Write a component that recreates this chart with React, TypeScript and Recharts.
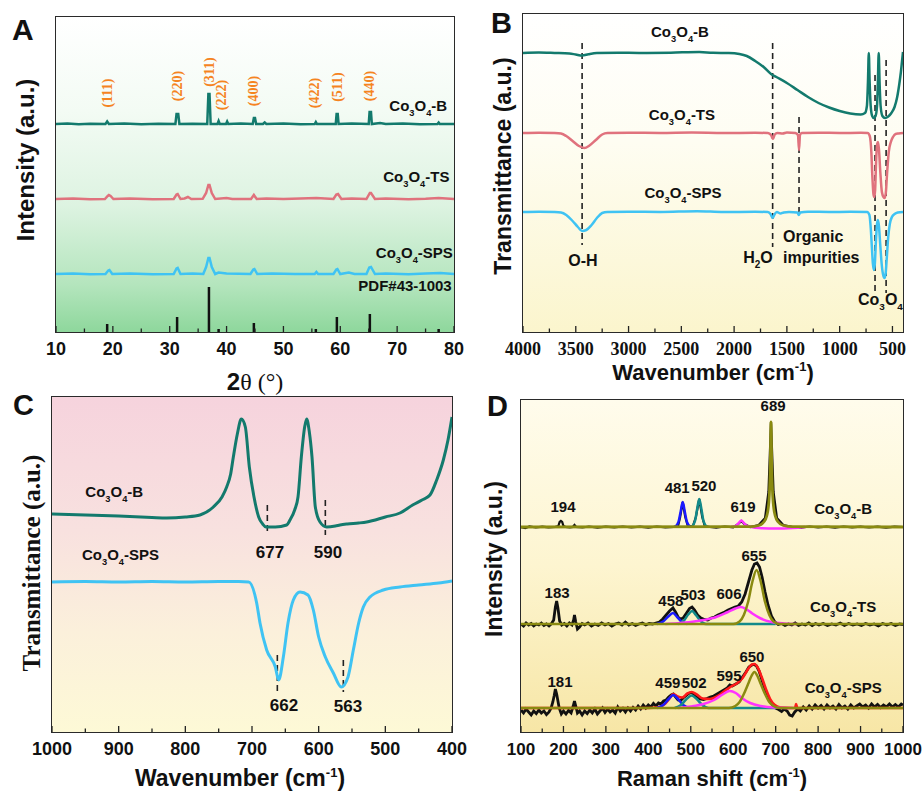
import React from 'react';
import { LineChart, Line, XAxis, YAxis, ReferenceLine, ReferenceDot } from 'recharts';

type Pt = [number, number];

const SANS = '"Liberation Sans", Arial, sans-serif';
const SERIF = '"Liberation Serif", "Times New Roman", serif';

// ---------- A: XRD (2θ, intensity a.u.) ----------
const xrdB: Pt[] = [[10,208],[12,208.4],[14,207.8],[16,208.3],[18.7,208],[19.0,210.5],[19.3,208],[22,208.4],[25,207.8],[28,208.3],[31.0,208],[31.2,218],[31.5,218],[31.7,208],[34,208.3],[36.6,208],[36.8,238],[37.0,238],[37.2,208],[38.4,208],[38.6,211],[38.8,208],[39.9,208],[40.1,210.5],[40.3,208],[42.5,208.4],[44.6,208],[44.8,214],[45.0,214],[45.2,208],[46.4,208],[46.7,209.5],[47.0,208],[50,208.4],[53,207.8],[55.5,208],[55.7,210],[55.9,208],[59.2,208],[59.35,218],[59.55,218],[59.7,208],[62,208.4],[65.0,208],[65.15,220],[65.4,220],[65.55,208],[67,209],[68,208],[71,208.5],[74,207.8],[77.1,208],[77.3,209.5],[77.5,208],[80,208]];
const xrdTS: Pt[] = [[10,133],[13,133.4],[16,132.8],[18.6,133],[19.1,136],[19.3,137],[19.6,136],[20.1,133],[23,133.4],[27,132.8],[30.7,133],[31.2,137.5],[31.4,138],[31.9,133],[32.6,133.5],[33.2,135],[33.8,133],[35.8,133.2],[36.4,139],[36.8,147],[37.0,147],[37.4,139],[38,133],[40,134],[41,133],[44.3,133],[44.8,137],[45.3,133],[47,133.6],[50,133],[53,133.4],[55.8,134],[58.8,133],[59.3,137.5],[59.6,138],[60.2,133],[62,133.4],[64.6,133],[65.2,139],[65.4,139],[66.1,133],[68,133.4],[72,132.8],[75,133.3],[77.3,134],[80,133]];
const xrdSPS: Pt[] = [[10,58],[13,58.4],[16,57.8],[18.7,58],[19.2,61.5],[19.4,62],[19.9,58],[23,58.4],[27,57.8],[30.7,58],[31.2,63.5],[31.4,64],[31.9,58],[34,58.4],[35.9,58],[36.4,65],[36.8,74],[37.0,74],[37.4,65],[38,58],[38.6,59.5],[40,58.5],[44.2,58],[44.7,62.5],[44.9,63],[45.4,58],[48,58.6],[52,58],[55.5,58],[55.8,60],[56.1,58],[58.8,58],[59.3,62.5],[59.5,63],[60,58],[61.5,59.5],[62.5,58],[64.6,58],[65.1,64.5],[65.4,65],[66.1,58],[68,58.4],[72,57.8],[75,58.4],[77.6,59],[80,58]];
const pdfPos = [19.0, 31.3, 36.9, 38.6, 44.8, 55.7, 59.4, 65.2, 77.3];
const pdfInt = [8, 15, 45, 3, 9, 3, 15, 18, 3];
const hklText = ['(111)', '(220)', '(311)', '(222)', '(400)', '(422)', '(511)', '(440)'];
const hklX = [19.0, 31.3, 36.9, 39.1, 44.7, 55.4, 59.4, 65.1];
const hklY = [239, 246, 260, 237, 241, 239, 245, 246];

// ---------- B: FTIR 4000-400 ----------
const ftirB: Pt[] = [[4000,279],[3850,279.4],[3700,279],[3560,278.5],[3500,277.5],[3440,276.5],[3380,277.8],[3300,279],[3100,279.3],[2900,279],[2600,279.3],[2330,280],[2200,279.2],[2050,279],[1950,278],[1880,276],[1800,271],[1720,265],[1650,258],[1600,255],[1500,249],[1400,242],[1300,235],[1200,229],[1100,224.5],[1000,221],[900,218.5],[800,217.5],[760,219],[742,226],[732,250],[724,279],[716,250],[706,226],[692,216],[676,214],[660,216],[646,226],[638,250],[630,279],[622,250],[612,226],[595,216],[570,214],[540,215.5],[510,219],[480,225],[455,235],[435,248],[420,260],[410,270],[400,280]];
const ftirTS: Pt[] = [[4000,199],[3850,199.3],[3700,199],[3640,198.5],[3590,196],[3530,191],[3470,186],[3420,184],[3370,186.5],[3310,192],[3250,197.5],[3200,199],[3000,199.3],[2700,199],[2400,199.4],[2100,199],[1800,199.2],[1680,199],[1650,197],[1632,193],[1615,197.5],[1590,199],[1540,198.5],[1500,199.5],[1420,199],[1395,197],[1385,182],[1376,197],[1360,199],[1200,199.3],[1000,199],[800,199.2],[735,199],[715,196],[700,180],[690,155],[680,138],[672,135],[664,142],[655,170],[645,188],[637,190],[628,183],[615,160],[600,140],[585,135],[572,134],[562,140],[550,160],[535,180],[515,190],[495,195],[470,198],[440,198.5],[400,199]];
const ftirSPS: Pt[] = [[4000,120],[3850,120.3],[3700,120],[3640,119.5],[3590,117],[3530,111],[3480,105],[3440,101],[3400,102],[3350,107],[3300,114],[3250,119],[3200,120],[3000,120.3],[2700,120],[2350,120.8],[2100,120],[1800,120.2],[1680,120],[1655,118],[1635,114],[1615,118],[1595,120],[1560,118.5],[1530,119.5],[1480,120],[1400,119.5],[1387,117],[1375,119.5],[1300,120.3],[1100,120],[900,120.2],[740,120],[718,117],[705,103],[695,85],[685,68],[676,62],[667,68],[656,92],[646,108],[637,112],[628,106],[616,88],[602,68],[588,57],[575,54],[565,58],[553,75],[540,95],[525,108],[505,115],[480,118],[450,119.5],[400,120]];
const dashB: [number, number, number][] = [[3440, 289, 87], [1635, 289, 85], [1385, 215, 117], [665, 257, 39], [560, 272, 39]];

// ---------- C: FTIR 1000-400 ----------
const ftirCB: Pt[] = [[1000,218],[950,217],[900,216],[850,214.5],[828,214],[800,215],[778,217],[758,225],[745,235],[738,245],[732,258],[728,275],[722,298],[716,313],[710,305],[704,265],[697,235],[690,215],[684,208],[679,205],[665,205],[648,207],[643,212],[636,222],[631,235],[626,275],[621,305],[618,313],[614,300],[610,275],[605,225],[598,210],[588,205],[575,206],[568,207],[557,208],[540,209],[528,210],[500,215],[478,219],[459,227],[445,232],[433,237],[423,252],[413,272],[406,292],[400,315]];
const ftirCSPS: Pt[] = [[1000,150],[950,150.5],[900,150],[850,150.5],[800,150],[750,150.5],[720,150.5],[705,150],[693,129],[688,109],[678,82],[665,65],[660,52],[653,75],[646,109],[638,132],[628,140],[616,137],[608,122],[600,95],[590,75],[578,59],[566,45],[556,55],[548,82],[540,109],[533,125],[523,135],[503,142],[478,145],[450,147],[420,149],[400,151]];
const dashC: [number, number, number][] = [[677, 227, 199], [590, 232, 197], [662, 77, 40], [563, 72, 40]];
const peakC: [string, number, number][] = [['677', 673, 180], ['590', 586, 180], ['662', 652, 27], ['563', 556, 26]];

// ---------- D: Raman ----------
const ramanBData: Pt[] = [[100,205],[110,204],[120,205.5],[135,204.5],[150,205.3],[165,204.6],[180,205],[188,206],[191,210],[194,211],[197,210],[200,206],[205,205],[215,204.5],[222,205],[226,207],[230,205],[245,204.5],[260,205.5],[280,204.3],[300,205.4],[320,204.6],[340,205.5],[360,204.5],[380,205.3],[400,204.4],[420,205.5],[440,204.6],[460,205.2],[470,206],[475,215],[481,230],[487,215],[493,206],[505,206],[512,215],[520,233],[527,215],[533,206],[545,205],[560,204.4],[580,205.5],[600,204.7],[612,208],[619,211],[626,208],[640,205],[660,207],[675,214],[683,240],[689,310],[695,240],[703,214],[718,207],[740,205],[760,204.3],[780,205.5],[800,204.5],[820,205.3],[840,204.4],[860,205.5],[880,204.6],[900,205.4],[920,204.5],[940,205.3],[960,204.4],[980,205.4],[1000,205]];
const ramanBBlue: Pt[] = [[463,205],[471,210],[476,220],[481,230],[486,220],[491,210],[499,205]];
const ramanBTeal: Pt[] = [[502,205],[510,211],[515,223],[520,233],[525,223],[530,211],[538,205]];
const ramanBMag: Pt[] = [[595,205],[607,206.5],[613,209],[619,211.5],[625,209],[631,206.5],[643,205],[660,204],[700,203.5],[740,204],[770,205]];
const ramanBOlive: Pt[] = [[100,205],[640,205.3],[660,206.5],[672,210],[679,216],[684,230],[687,260],[689,310],[691,260],[694,230],[699,216],[706,210],[718,206.5],[740,205.3],[1000,205]];

const ramanTSData: Pt[] = [[100,108],[106,106],[112,109],[118,107],[124,108.5],[130,106],[136,108],[142,107],[148,109],[154,106.5],[160,108],[166,106],[172,108.5],[177,112],[181,125],[184,131],[187,124],[191,111],[196,107],[202,108.5],[208,106],[214,109],[220,107],[224,112],[226,117],[229,110],[233,103],[238,105],[244,108.5],[250,107],[258,109],[266,106],[274,108],[282,106.5],[290,109],[298,107],[306,108.5],[314,106],[322,108],[330,109],[338,107],[346,110],[354,107],[362,108.5],[370,106.5],[378,108],[386,109],[394,107],[402,108.5],[410,108],[418,109],[426,110],[434,113],[442,117],[450,121],[458,124],[464,120],[470,115],[476,113],[482,114],[490,119],[497,123.5],[503,125],[509,122],[516,117],[524,114],[532,112.5],[540,112],[548,114],[556,115],[564,117],[572,118.5],[580,120],[588,122],[596,123.5],[604,125],[612,126],[620,130],[628,138],[636,150],[644,162],[650,168],[656,169],[662,165],[668,155],[675,140],[682,127],[690,116],[698,110],[706,107.5],[714,108.5],[722,106.5],[730,108],[738,107],[746,109],[754,106.5],[762,108],[770,107],[778,109],[786,106.5],[794,108.5],[802,107],[812,108.5],[822,106.5],[832,108],[842,107],[852,109],[862,106.5],[872,108.5],[882,107],[892,108],[902,106.5],[912,108.5],[922,107],[932,108],[942,106],[952,108.5],[962,107],[972,108.5],[982,106.5],[992,108],[1000,107.5]];
const ramanTSBlue: Pt[] = [[420,108],[435,110.5],[447,115.5],[458,119],[468,115],[478,110.5],[492,108]];
const ramanTSTeal: Pt[] = [[470,108],[483,111],[494,117.5],[503,121],[512,117],[523,111],[536,108],[700,108]];
const ramanTSMag: Pt[] = [[440,108],[470,108.8],[500,110],[530,112],[560,115],[585,119.5],[605,123.5],[618,125],[630,123],[645,118.5],[665,113.5],[690,110],[720,108.5],[750,108]];
const ramanTSOlive: Pt[] = [[100,108],[600,108],[615,110.5],[625,117],[635,130],[645,150],[655,162],[665,150],[675,130],[685,117],[695,110.5],[710,108],[1000,108]];

const ramanSPSData: Pt[] = [[100,22],[106,19],[112,23],[118,20],[124,17],[130,21],[136,18.5],[142,22],[148,19],[154,21],[160,17.5],[166,20],[171,24],[175,30],[178,36],[181,43],[184,38],[187,31],[190,24],[195,18],[200,21],[206,18],[212,21.5],[218,19],[223,26],[226,31],[229,26],[233,19],[238,21],[244,17],[250,21],[256,18.5],[262,22],[268,19],[274,23],[280,18],[286,21],[292,24],[298,19.5],[304,23],[310,20],[316,22],[322,19],[328,25],[334,21],[340,23.5],[346,20],[352,24],[358,21],[364,24.5],[370,22],[376,26],[382,23],[388,27],[394,24],[400,27],[406,25],[412,28.5],[418,26],[424,29],[430,28],[436,31],[442,32],[448,35],[454,37],[459,38],[464,35],[470,32],[476,31.5],[482,34],[488,36],[495,38.5],[502,39.5],[508,37.5],[515,35],[522,33],[530,32.5],[538,33.5],[546,35],[554,36],[562,38],[570,40],[578,42],[586,44],[592,47],[598,46],[606,48],[614,50],[622,55],[630,60],[637,65],[644,67],[650,67.5],[655,66],[661,61],[667,53],[673,45],[680,37],[686,31],[693,27],[700,24],[707,22.5],[714,20.5],[720,23],[727,21],[733,17],[739,16],[745,20],[752,23],[758,21],[765,25],[772,22],[779,26],[786,23],[793,27],[800,24],[807,26.5],[814,23],[821,27],[828,24],[835,26],[842,23],[849,27.5],[856,24],[863,26],[870,23],[877,27],[884,24],[891,26],[898,28],[905,25],[912,27],[919,24],[926,28],[933,25],[940,27.5],[947,24.5],[954,27],[961,25],[968,28],[975,25],[982,27.5],[989,25],[996,28],[1000,27]];
const ramanSPSRed: Pt[] = [[100,24],[400,24],[425,25],[440,28.5],[450,33.5],[459,38],[469,35.5],[480,34.5],[492,38.5],[502,40],[514,37.5],[528,33.5],[545,33],[562,35.5],[580,41],[595,45.5],[610,49],[622,54],[635,63],[644,67.5],[650,68],[657,65],[667,55],[677,43],[687,33],[698,27],[712,24.5],[740,24],[746,24],[748,28],[751,24],[1000,24]];
const ramanSPSBlue: Pt[] = [[420,24],[435,27],[448,33],[459,37],[470,33],[482,27],[497,24]];
const ramanSPSTeal: Pt[] = [[462,24],[477,27],[490,33],[502,36.5],[514,33],[527,27],[542,24],[700,24]];
const ramanSPSMag: Pt[] = [[470,24],[500,25.5],[530,28],[555,32],[575,37.5],[592,41],[606,39],[620,34],[640,29],[665,26],[700,24.5],[740,24]];
const ramanSPSOlive: Pt[] = [[100,24],[590,24],[605,26],[615,30],[625,38],[635,48],[643,56],[650,60],[657,56],[665,48],[675,38],[685,30],[695,26],[710,24],[1000,24]];
const peakD: [string, number, number][] = [['194', 199, 225], ['481', 468, 244], ['520', 531, 246], ['619', 623, 225], ['689', 694, 326], ['183', 185, 139], ['458', 453, 131], ['503', 505, 137], ['606', 590, 138], ['655', 649, 176], ['181', 192, 50], ['459', 446, 49], ['502', 508, 49], ['595', 590, 56], ['650', 644, 75]];

const TEAL = '#137a6d';
const PINK = '#e0727d';
const SKY = '#3fc3f3';

const rows = (p: Pt[]) => p.map(([x, y]) => ({ x, y }));

function tickRenderer(majors: number[], font: string, size: number, margin: number) {
  return (props: any) => {
    const { x, y, payload } = props;
    const v = payload.value as number;
    const major = majors.includes(v);
    const ay = y - margin;
    return (
      <g>
        <line x1={x} x2={x} y1={ay} y2={ay - (major ? 6 : 3.5)} stroke="#222" strokeWidth={1.3} />
        {major ? (
          <text x={x} y={y} dy="0.72em" textAnchor="middle" fontFamily={font} fontWeight="bold" fontSize={size} fill="#111">{v}</text>
        ) : null}
      </g>
    );
  };
}

function Formula({ x, y, suffix, anchor = 'middle', size = 15 }: any) {
  const s = size * 0.62;
  const d = size * 0.32;
  return (
    <text x={x} y={y + size * 0.35} textAnchor={anchor} fontFamily={SANS} fontWeight="bold" fontSize={size} fill="#111">
      Co<tspan dy={d} fontSize={s}>3</tspan><tspan dy={-d}>O</tspan><tspan dy={d} fontSize={s}>4</tspan><tspan dy={-d}>{suffix}</tspan>
    </text>
  );
}

function Plain({ x, y, text, anchor = 'middle', size = 15, font = SANS, color = '#111', weight = 'bold', rotate = false }: any) {
  return (
    <text x={x} y={y} dy="0.35em" textAnchor={anchor} fontFamily={font} fontWeight={weight} fontSize={size} fill={color}
      transform={rotate ? `rotate(-90 ${x} ${y})` : undefined}>{text}</text>
  );
}

function Frame({ left, top, width, height, bg }: any) {
  return (
    <div style={{ position: 'absolute', left: left - 0.75, top: top - 0.75, width: width + 1.5, height: height + 1.5, border: '1.5px solid #2a2a2a', boxSizing: 'border-box', background: bg }} />
  );
}

const line = (data: Pt[], color: string, width: number, type: any = 'monotone') => (
  <Line data={rows(data)} dataKey="y" type={type} stroke={color} strokeWidth={width} dot={false} activeDot={false} isAnimationActive={false} legendType="none" />
);

const dash = (x: number, y1: number, y2: number) => (
  <ReferenceLine segment={[{ x, y: y1 }, { x, y: y2 }]} stroke="#222" strokeWidth={1.6} strokeDasharray="6 4" ifOverflow="visible" />
);

const range = (a: number, b: number, s: number) => { const r: number[] = []; for (let v = a; v <= b + 1e-9; v += s) r.push(+v.toFixed(3)); return r; };

export default function App() {
  const ticksA = range(10, 80, 5);
  const ticksB = range(500, 4000, 250);
  const ticksC = range(400, 1000, 50);
  const ticksD = range(100, 1000, 50);
  return (
    <div style={{ position: 'absolute', left: 0, top: 0, width: 923, height: 791, background: '#fff', overflow: 'hidden' }}>
      <Frame left={56} top={17} width={398} height={315} bg="linear-gradient(to bottom, #ffffff 0%, #f3fbf4 30%, #ddf3e1 60%, #b4e5bd 85%, #8ed79c 100%)" />
      <Frame left={523} top={14} width={380} height={318} bg="linear-gradient(to bottom, #ffffff 0%, #fefdf2 40%, #fbf5cd 100%)" />
      <Frame left={52} top={397} width={400} height={335} bg="linear-gradient(to bottom, #f6d3dd 0%, #f8e1df 40%, #fbf0db 70%, #fdf9d6 100%)" />
      <Frame left={521} top={400} width={382} height={332} bg="linear-gradient(to bottom, #fffcec 0%, #fdf5d0 50%, #f7e6a6 100%)" />

      {/* A */}
      <div style={{ position: 'absolute', left: 0, top: 0 }}>
        <LineChart width={470} height={400} margin={{ top: 17, right: 16, bottom: 38, left: 56 }}>
          <XAxis dataKey="x" type="number" domain={[10, 80]} ticks={ticksA} interval={0} allowDataOverflow height={30} tickSize={0} tickMargin={10} axisLine={false} tickLine={false} tick={tickRenderer(range(10, 80, 10), SANS, 18, 10)} />
          <YAxis type="number" domain={[0, 315]} hide allowDataOverflow />
          {pdfPos.map((p, i) => (
            <ReferenceLine key={'pdf' + i} segment={[{ x: p, y: 0 }, { x: p, y: pdfInt[i] }]} stroke="#111" strokeWidth={2.5} />
          ))}
          {line(xrdB, TEAL, 2.5, 'linear')}
          {line(xrdTS, PINK, 2.5, 'linear')}
          {line(xrdSPS, SKY, 2.5, 'linear')}
          {hklText.map((t, i) => (
            <ReferenceDot key={'hkl' + i} x={hklX[i]} y={hklY[i]} r={0} ifOverflow="visible"
              shape={(p: any) => <Plain x={p.cx} y={p.cy} text={t} size={14} font={SERIF} color="#f5841f" rotate />} />
          ))}
          <ReferenceDot x={78.8} y={226} r={0} ifOverflow="visible" shape={(p: any) => <Formula x={p.cx} y={p.cy} suffix="-B" anchor="end" />} />
          <ReferenceDot x={79.2} y={155} r={0} ifOverflow="visible" shape={(p: any) => <Formula x={p.cx} y={p.cy} suffix="-TS" anchor="end" />} />
          <ReferenceDot x={79.8} y={79} r={0} ifOverflow="visible" shape={(p: any) => <Formula x={p.cx} y={p.cy} suffix="-SPS" anchor="end" />} />
          <ReferenceDot x={79.6} y={46} r={0} ifOverflow="visible" shape={(p: any) => <Plain x={p.cx} y={p.cy} text="PDF#43-1003" anchor="end" />} />
        </LineChart>
      </div>

      {/* B */}
      <div style={{ position: 'absolute', left: 460, top: 0 }}>
        <LineChart width={463} height={400} margin={{ top: 14, right: 20, bottom: 38, left: 63 }}>
          <XAxis dataKey="x" type="number" domain={[400, 4000]} reversed ticks={ticksB} interval={0} allowDataOverflow height={30} tickSize={0} tickMargin={10} axisLine={false} tickLine={false} tick={tickRenderer(range(500, 4000, 500), SERIF, 18, 10)} />
          <YAxis type="number" domain={[0, 318]} hide allowDataOverflow />
          {dashB.map(([x, a, b]) => dash(x, a, b))}
          {line(ftirB, TEAL, 2.5)}
          {line(ftirTS, PINK, 2.5)}
          {line(ftirSPS, SKY, 2.5)}
          <ReferenceDot x={2513} y={300} r={0} ifOverflow="visible" shape={(p: any) => <Formula x={p.cx} y={p.cy} suffix="-B" />} />
          <ReferenceDot x={2494} y={217} r={0} ifOverflow="visible" shape={(p: any) => <Formula x={p.cx} y={p.cy} suffix="-TS" />} />
          <ReferenceDot x={2484} y={139} r={0} ifOverflow="visible" shape={(p: any) => <Formula x={p.cx} y={p.cy} suffix="-SPS" />} />
          <ReferenceDot x={826} y={33} r={0} ifOverflow="visible" shape={(p: any) => <Formula x={p.cx} y={p.cy} suffix="" anchor="start" size={16} />} />
          <ReferenceDot x={3432} y={72} r={0} ifOverflow="visible" shape={(p: any) => <Plain x={p.cx} y={p.cy} text="O-H" size={16} />} />
          <ReferenceDot x={1774} y={75} r={0} ifOverflow="visible" shape={(p: any) => (
            <text x={p.cx} y={p.cy + 5.6} textAnchor="middle" fontFamily={SANS} fontWeight="bold" fontSize={16} fill="#111">H<tspan dy={5} fontSize={10}>2</tspan><tspan dy={-5}>O</tspan></text>
          )} />
          <ReferenceDot x={1537} y={96} r={0} ifOverflow="visible" shape={(p: any) => <Plain x={p.cx} y={p.cy} text="Organic" size={16} anchor="start" />} />
          <ReferenceDot x={1537} y={75} r={0} ifOverflow="visible" shape={(p: any) => <Plain x={p.cx} y={p.cy} text="impurities" size={16} anchor="start" />} />
        </LineChart>
      </div>

      {/* C */}
      <div style={{ position: 'absolute', left: 0, top: 390 }}>
        <LineChart width={470} height={401} margin={{ top: 7, right: 18, bottom: 29, left: 52 }}>
          <XAxis dataKey="x" type="number" domain={[400, 1000]} reversed ticks={ticksC} interval={0} allowDataOverflow height={30} tickSize={0} tickMargin={10} axisLine={false} tickLine={false} tick={tickRenderer(range(400, 1000, 100), SANS, 18, 10)} />
          <YAxis type="number" domain={[0, 335]} hide allowDataOverflow />
          {dashC.map(([x, a, b]) => dash(x, a, b))}
          {line(ftirCB, TEAL, 3)}
          {line(ftirCSPS, SKY, 3)}
          {peakC.map(([t, x, y]) => (
            <ReferenceDot key={'pc' + t} x={x} y={y} r={0} ifOverflow="visible" shape={(p: any) => <Plain x={p.cx} y={p.cy} text={t} size={17} />} />
          ))}
          <ReferenceDot x={950} y={240} r={0} ifOverflow="visible" shape={(p: any) => <Formula x={p.cx} y={p.cy} suffix="-B" anchor="start" />} />
          <ReferenceDot x={955} y={177} r={0} ifOverflow="visible" shape={(p: any) => <Formula x={p.cx} y={p.cy} suffix="-SPS" anchor="start" />} />
        </LineChart>
      </div>

      {/* D */}
      <div style={{ position: 'absolute', left: 460, top: 390 }}>
        <LineChart width={463} height={401} margin={{ top: 10, right: 20, bottom: 29, left: 61 }}>
          <XAxis dataKey="x" type="number" domain={[100, 1000]} ticks={ticksD} interval={0} allowDataOverflow height={30} tickSize={0} tickMargin={11} axisLine={false} tickLine={false} tick={tickRenderer(range(100, 1000, 100), SANS, 17, 11)} />
          <YAxis type="number" domain={[0, 332]} hide allowDataOverflow />
          {line(ramanBData, '#111', 2.2, 'linear')}
          {line(ramanTSData, '#111', 2.8, 'linear')}
          {line(ramanSPSData, '#111', 2.8, 'linear')}
          {line(ramanSPSRed, '#ff1a1a', 2.6)}
          {line(ramanBBlue, '#1a1aff', 2.5)}
          {line(ramanTSBlue, '#1a1aff', 2.5)}
          {line(ramanSPSBlue, '#1a1aff', 2.5)}
          {line(ramanBTeal, '#138a8a', 2.5)}
          {line(ramanTSTeal, '#138a8a', 2.5)}
          {line(ramanSPSTeal, '#138a8a', 2.5)}
          {line(ramanBMag, '#ff33ff', 2.5)}
          {line(ramanTSMag, '#ff33ff', 2.5)}
          {line(ramanSPSMag, '#ff33ff', 2.5)}
          {line(ramanBOlive, '#8a8a10', 2.8)}
          {line(ramanTSOlive, '#8a8a10', 2.5)}
          {line(ramanSPSOlive, '#8a8a10', 2.5)}
          {peakD.map(([t, x, y]) => (
            <ReferenceDot key={'pd' + t} x={x} y={y} r={0} ifOverflow="visible" shape={(p: any) => <Plain x={p.cx} y={p.cy} text={t} size={15} />} />
          ))}
          <ReferenceDot x={859} y={223} r={0} ifOverflow="visible" shape={(p: any) => <Formula x={p.cx} y={p.cy} suffix="-B" />} />
          <ReferenceDot x={859} y={125} r={0} ifOverflow="visible" shape={(p: any) => <Formula x={p.cx} y={p.cy} suffix="-TS" />} />
          <ReferenceDot x={859} y={44} r={0} ifOverflow="visible" shape={(p: any) => <Formula x={p.cx} y={p.cy} suffix="-SPS" />} />
        </LineChart>
      </div>

      {/* panel letters and axis titles */}
      <svg width={923} height={791} style={{ position: 'absolute', left: 0, top: 0, pointerEvents: 'none' }}>
        <g fontFamily={SANS} fontWeight="bold" fill="#111">
          <text x={12} y={40} fontSize={30}>A</text>
          <text x={491} y={33} fontSize={29}>B</text>
          <text x={13} y={415} fontSize={29}>C</text>
          <text x={487} y={416} fontSize={29}>D</text>
        </g>
        <text x={255} y={390} textAnchor="middle" fontFamily={SERIF} fontSize={24} fill="#111"><tspan fontFamily={SANS} fontWeight="bold">2</tspan>θ (°)</text>
        <text transform="translate(34,160) rotate(-90)" textAnchor="middle" fontFamily={SANS} fontWeight="bold" fontSize={24} fill="#111">Intensity (a.u.)</text>
        <text transform="translate(511,166) rotate(-90)" textAnchor="middle" fontFamily={SANS} fontWeight="bold" fontSize={23} fill="#111">Transmittance (a.u.)</text>
        <text x={713} y={380} textAnchor="middle" fontFamily={SANS} fontWeight="bold" fontSize={22} fill="#111">Wavenumber (cm<tspan dy={-9} fontSize={13}>-1</tspan><tspan dy={9}>)</tspan></text>
        <text transform="translate(40,563) rotate(-90)" textAnchor="middle" fontFamily={SERIF} fontWeight="bold" fontSize={25} fill="#111">Transmittance (a.u.)</text>
        <text x={240} y={786} textAnchor="middle" fontFamily={SANS} fontWeight="bold" fontSize={23} fill="#111">Wavenumber (cm<tspan dy={-9} fontSize={13}>-1</tspan><tspan dy={9}>)</tspan></text>
        <text x={712} y={786} textAnchor="middle" fontFamily={SANS} fontWeight="bold" fontSize={22} fill="#111">Raman shift (cm<tspan dy={-9} fontSize={13}>-1</tspan><tspan dy={9}>)</tspan></text>
        <text transform="translate(502,559) rotate(-90)" textAnchor="middle" fontFamily={SANS} fontWeight="bold" fontSize={23} fill="#111">Intensity (a.u.)</text>
      </svg>
    </div>
  );
}
